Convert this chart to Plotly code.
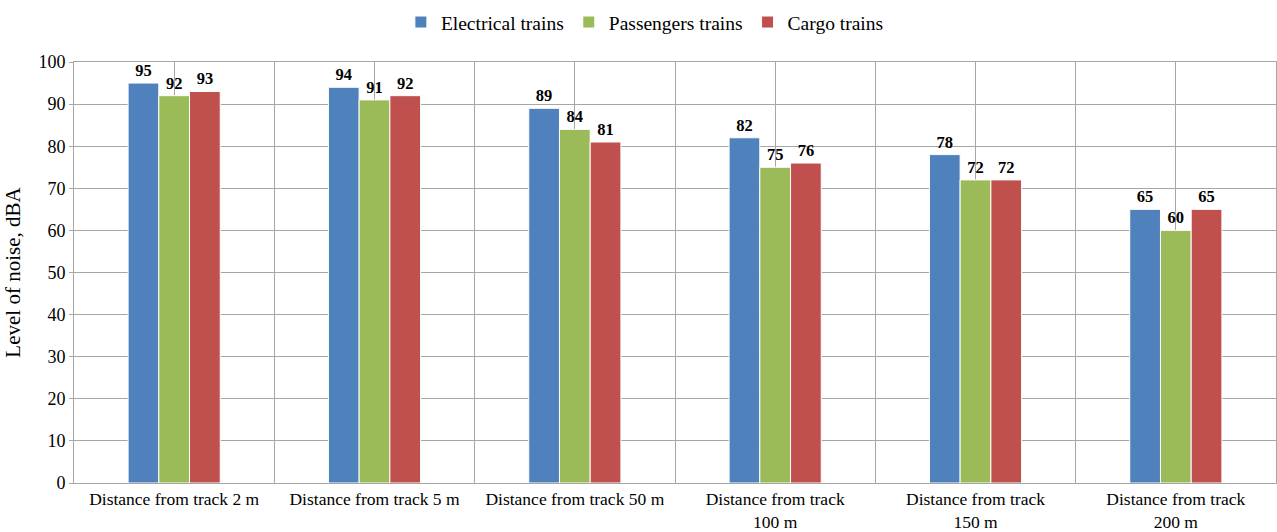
import plotly.graph_objects as go

categories = ["Distance from track 2 m", "Distance from track 5 m", "Distance from track 50 m",
              "Distance from track<br>100 m", "Distance from track<br>150 m", "Distance from track<br>200 m"]
electrical = [95, 94, 89, 82, 78, 65]
passengers = [92, 91, 84, 75, 72, 60]
cargo = [93, 92, 81, 76, 72, 65]
series_names = ["Electrical trains", "Passengers trains", "Cargo trains"]
colors = ["#4F81BD", "#9BBB59", "#C0504D"]
yticks = [0, 10, 20, 30, 40, 50, 60, 70, 80, 90, 100]

FONT = "Times New Roman, Liberation Serif, serif"
xpos = list(range(len(categories)))

fig = go.Figure()
for name, vals, col in zip(series_names, [electrical, passengers, cargo], colors):
    fig.add_trace(go.Bar(
        x=xpos, y=vals, name=name,
        marker=dict(color=col, line=dict(color="white", width=1)),
        text=[str(v) for v in vals], textposition="outside",
        textfont=dict(family=FONT, size=16.5, color="black", weight="bold"),
        cliponaxis=False,
    ))

grid = "#A6A6A6"
fig.update_layout(
    width=1277, height=532,
    margin=dict(l=74, r=1, t=62, b=49, autoexpand=False),
    paper_bgcolor="white", plot_bgcolor="white",
    barmode="group", bargap=0.54, bargroupgap=0.0,
    font=dict(family=FONT, size=17, color="black"),
    legend=dict(orientation="h", xref="container", yref="container",
                x=0.505, xanchor="center", y=0.958, yanchor="middle",
                font=dict(family=FONT, size=19.5, color="black"),
                itemwidth=30, traceorder="normal"),
    xaxis=dict(
        range=[-0.5, len(categories) - 0.5],
        tickvals=xpos, ticktext=categories,
        showgrid=True, gridcolor=grid, gridwidth=1,
        minor=dict(tickvals=[i + 0.5 for i in range(len(categories) - 1)],
                   showgrid=True, gridcolor=grid, gridwidth=1),
        showline=True, linecolor=grid, linewidth=1, mirror=True,
        ticks="", tickfont=dict(family=FONT, size=17.5, color="black"),
        zeroline=False,
    ),
    yaxis=dict(
        range=[0, 100], tickvals=yticks,
        showgrid=True, gridcolor=grid, gridwidth=1,
        showline=True, linecolor=grid, linewidth=1, mirror=True,
        ticks="outside", ticklen=4, tickcolor=grid,
        tickfont=dict(family=FONT, size=18, color="black"),
        title=dict(text="Level of noise, dBA", font=dict(family=FONT, size=21, color="black"), standoff=12),
        zeroline=False,
    ),
)

fig.write_html("out.html")
